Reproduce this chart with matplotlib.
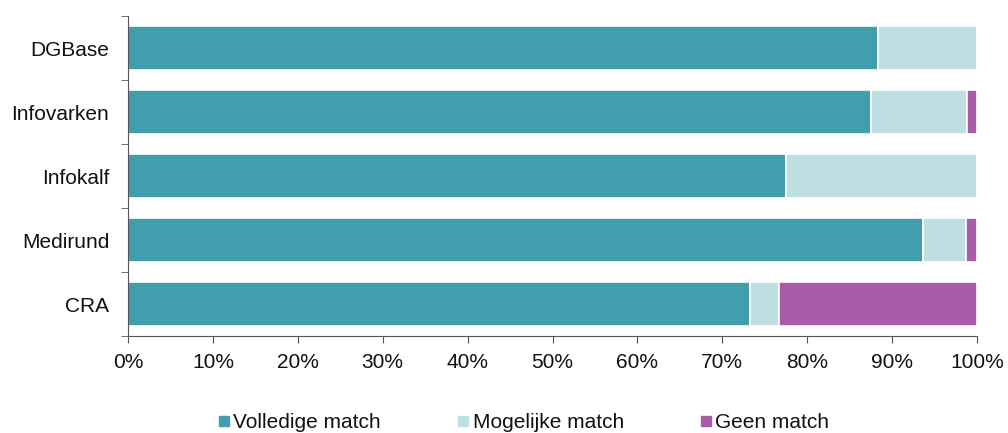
import matplotlib
matplotlib.use("Agg")
import matplotlib.pyplot as plt
from matplotlib.lines import Line2D
from matplotlib.ticker import FuncFormatter, FixedLocator

plt.rcParams['font.family'] = ['Liberation Sans', 'DejaVu Sans']

categories = ["DGBase", "Infovarken", "Infokalf", "Medirund", "CRA"]
volledige = [88.3, 87.5, 77.5, 93.6, 73.3]
mogelijke = [11.7, 11.3, 22.5, 5.1, 3.4]
geen = [0.0, 1.2, 0.0, 1.3, 23.3]
series_names = ["Volledige match", "Mogelijke match", "Geen match"]
colors = ["#429EAE", "#BFDFE3", "#A95DA8"]

fig = plt.figure(figsize=(10.08, 4.33), dpi=100)
ax = fig.add_axes([128/1008, 1-336/433, (977-128)/1008, (336-16)/433])

y = list(range(len(categories)))[::-1]
left = [0.0]*len(categories)
for vals, c in zip([volledige, mogelijke, geen], colors):
    ax.barh(y, vals, left=left, height=0.69, color=c, edgecolor="white", linewidth=1.2)
    left = [l + v for l, v in zip(left, vals)]

ax.set_xlim(0, 100)
ax.set_ylim(-0.5, len(categories)-0.5)
ax.set_xticks(range(0, 101, 10))
ax.xaxis.set_major_formatter(FuncFormatter(lambda v, p: f"{int(v)}%"))
ax.set_yticks(y)
ax.set_yticklabels(categories)
ax.tick_params(axis='y', which='major', length=0, pad=13.5, labelsize=15, labelcolor="#111111")
ax.yaxis.set_minor_locator(FixedLocator([i - 0.5 for i in range(len(categories)+1)]))
ax.tick_params(axis='y', which='minor', length=5, color="#555555", direction='out')
ax.tick_params(axis='x', length=5, color="#555555", labelsize=15, pad=7.5, labelcolor="#111111")
for s in ["top", "right"]:
    ax.spines[s].set_visible(False)
for s in ["left", "bottom"]:
    ax.spines[s].set_color("#555555")
    ax.spines[s].set_linewidth(0.8)

handles = [Line2D([], [], marker='s', linestyle='none', markersize=6.8, color=c) for c in colors]
fig.legend(handles, series_names, loc='center', bbox_to_anchor=(522/1008, 1-423/433),
           ncol=3, frameon=False, fontsize=15, handletextpad=0.0, columnspacing=3.5,
           handlelength=0.9, labelcolor="#111111")

fig.savefig("out.png", dpi=100)
